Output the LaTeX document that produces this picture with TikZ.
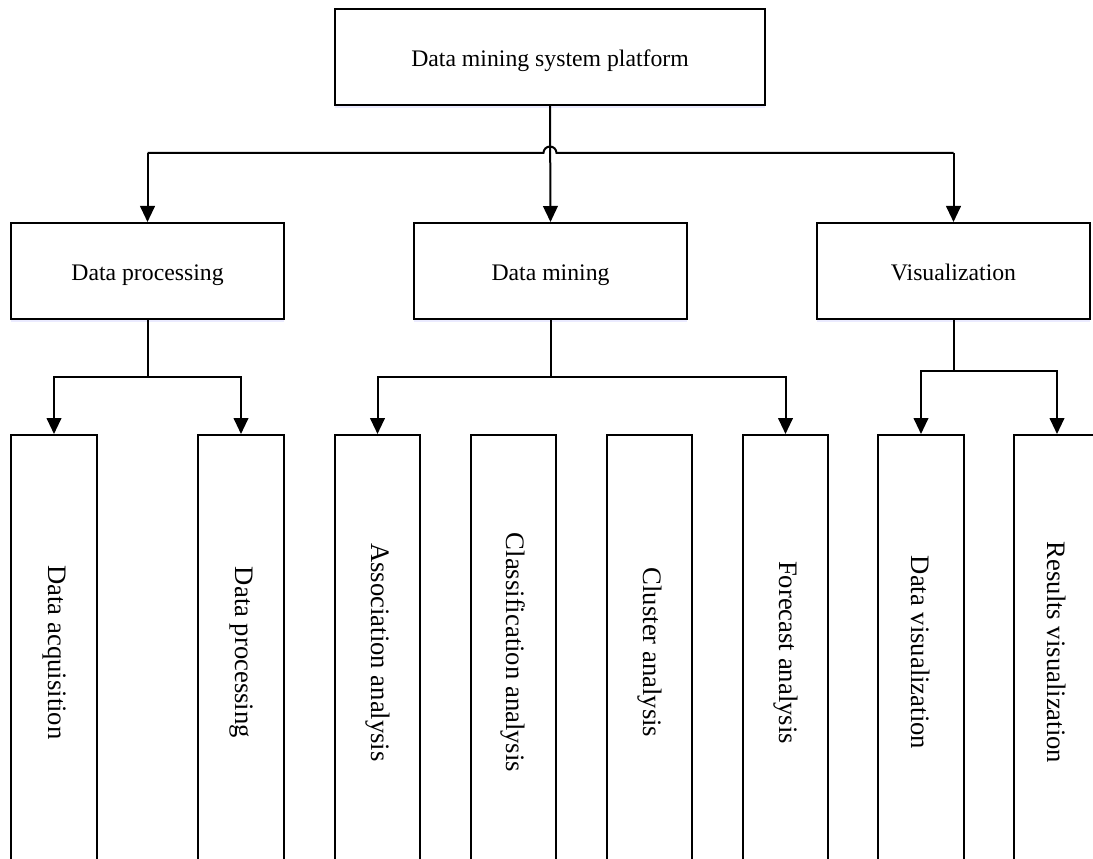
\documentclass[tikz,border=0pt]{standalone}
\usepackage{fontspec}
\setmainfont{Liberation Serif}
\usetikzlibrary{arrows.meta,shadows}
\begin{document}
\begin{tikzpicture}[x=0.75pt,y=0.75pt,
  box/.style={draw=black,line width=1.5pt,fill=white,inner sep=0pt,
    drop shadow={shadow xshift=0pt,shadow yshift=-2.5pt,fill=blue!25,opacity=0.3}},
  hbox/.style={box,font=\fontsize{17.8pt}{20pt}\selectfont,text height=15pt,text depth=0pt},
  topbox/.style={hbox,minimum width=322.5pt,minimum height=72pt},
  midbox/.style={hbox,minimum width=204.75pt,minimum height=72pt},
  leaf/.style={box,font=\fontsize{20pt}{22pt}\selectfont,minimum width=64pt,minimum height=326.25pt},
  conn/.style={line width=1.5pt},
  arr/.style={conn,-{Triangle[length=12pt,width=11pt]}}]
\clip (0,0) rectangle (1093,-859);
\fill[white] (0,0) rectangle (1093,-859);

\node[topbox] (top) at (550,-57) {Data mining system platform};
\node[midbox] (proc) at (147.5,-271) {Data processing};
\node[midbox] (mine) at (550.5,-271) {Data mining};
\node[midbox] (vis) at (953.5,-271) {Visualization};

\node[leaf] (l1) at (54,-652.5) {\rotatebox{-90}{Data acquisition}};
\node[leaf] (l2) at (241,-652.5) {\rotatebox{-90}{Data processing}};
\node[leaf] (l3) at (377.5,-652.5) {\rotatebox{-90}{Association analysis}};
\node[leaf] (l4) at (513.5,-652.5) {\rotatebox{-90}{Classification analysis}};
\node[leaf] (l5) at (649.5,-652.5) {\rotatebox{-90}{Cluster analysis}};
\node[leaf] (l6) at (785.5,-652.5) {\rotatebox{-90}{Forecast analysis}};
\node[leaf] (l7) at (921,-652.5) {\rotatebox{-90}{Data visualization}};
\node[leaf] (l8) at (1057,-652.5) {\rotatebox{-90}{Results visualization}};

% top level
\coordinate (bus) at (550,-153);
\draw[arr] (top.south) -- (mine.north);
\draw[conn] (bus -| proc.north) -- ([xshift=-4.9pt]bus) arc[start angle=180,end angle=0,radius=6.5] -- (bus -| vis.north);
\draw[arr] (bus -| proc.north) -- (proc.north);
\draw[arr] (bus -| vis.north) -- (vis.north);

% data processing branch
\coordinate (pb) at (147.5,-377);
\draw[conn] (proc.south) -- (pb);
\draw[arr] (pb) -| (l1.north);
\draw[arr] (pb) -| (l2.north);

% data mining branch
\coordinate (mb) at (550.5,-377);
\draw[conn] (mine.south) -- (mb);
\draw[arr] (mb) -| (l3.north);
\draw[arr] (mb) -| (l6.north);

% visualization branch
\coordinate (vb) at (953.5,-371);
\draw[conn] (vis.south) -- (vb);
\draw[arr] (vb) -| (l7.north);
\draw[arr] (vb) -| (l8.north);
\end{tikzpicture}
\end{document}
